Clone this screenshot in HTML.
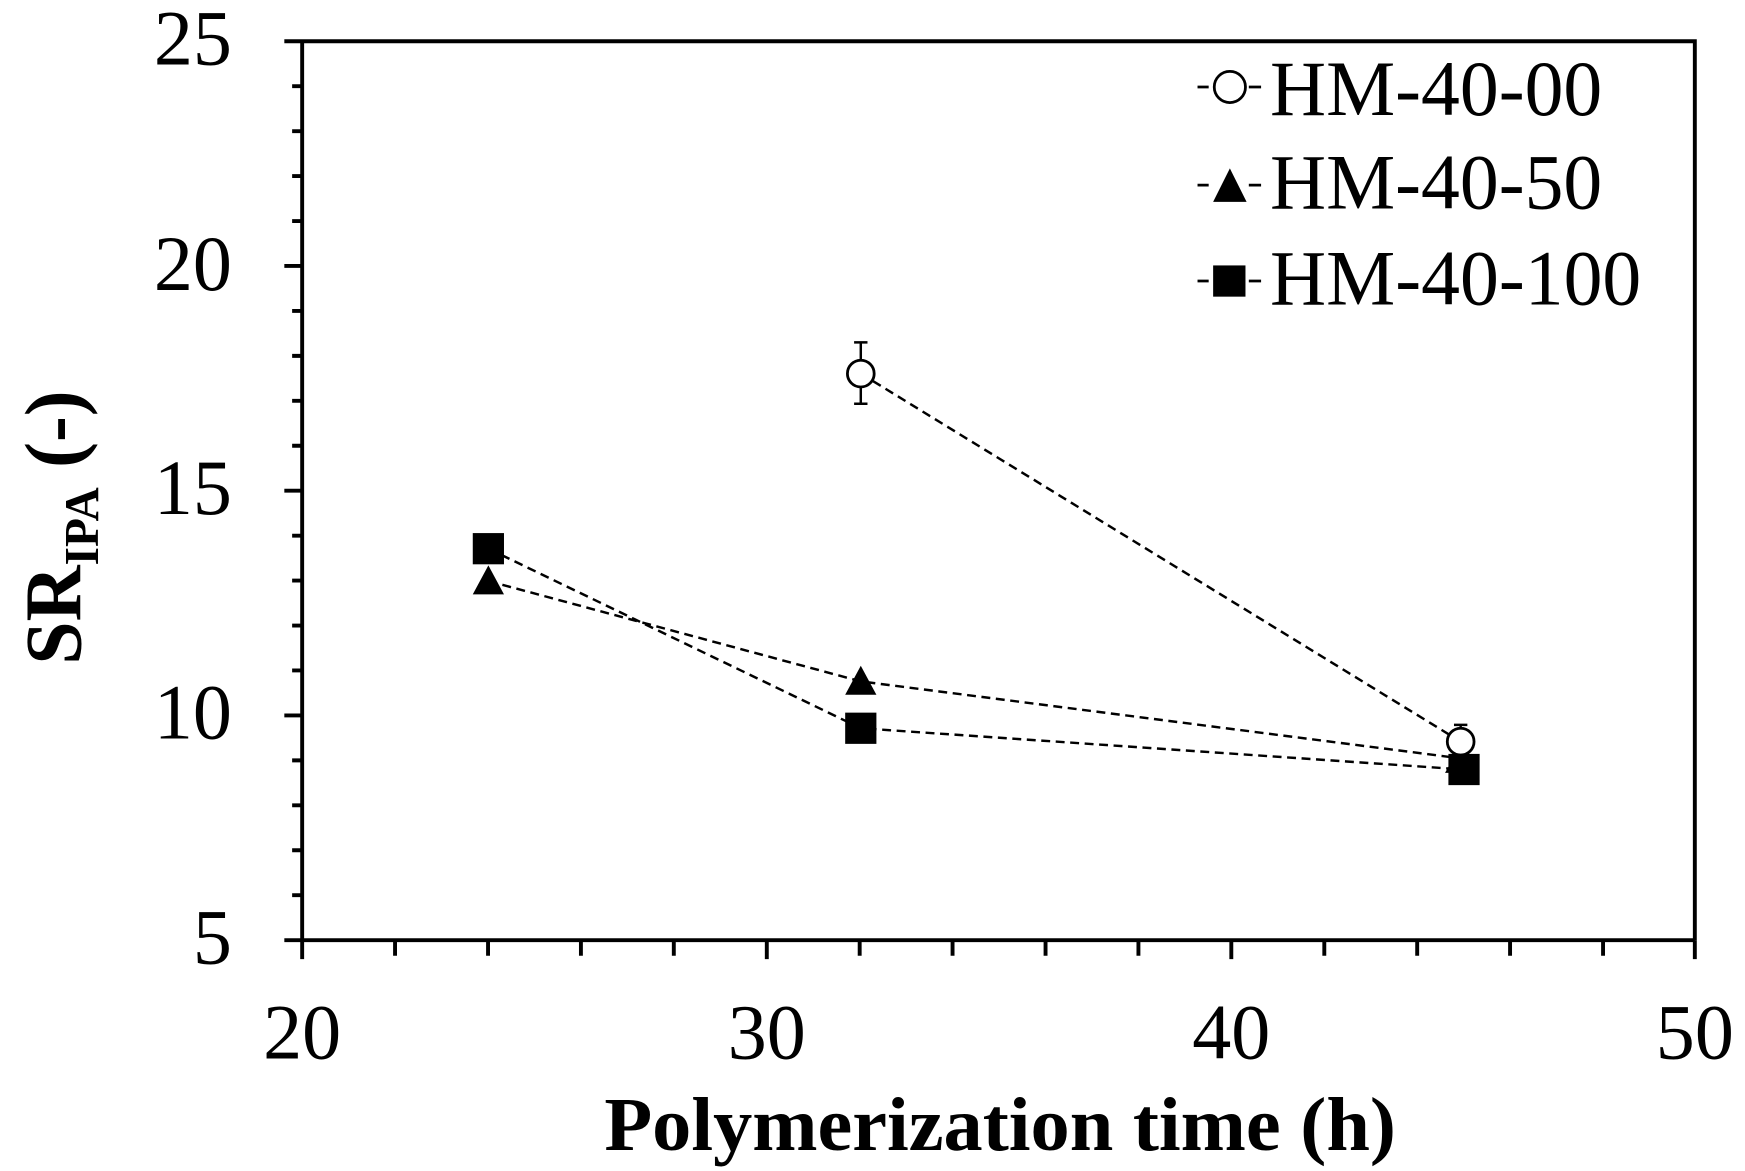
<!DOCTYPE html>
<html><head><meta charset="utf-8"><style>html,body{margin:0;padding:0;background:#fff}svg{display:block}</style></head>
<body>
<svg width="1745" height="1171" viewBox="0 0 1565 1050" preserveAspectRatio="none" xmlns="http://www.w3.org/2000/svg" font-family="'Liberation Serif', serif">
<g stroke="#000" stroke-width="3.5" fill="none">
<path d="M255 37 H1520 V843 M271 37 V860 M255 843 H1520"/>
<path d="M262 77.3H271 M262 117.6H271 M262 157.9H271 M262 198.2H271 M262 278.8H271 M262 319.1H271 M262 359.4H271 M262 399.7H271 M262 480.3H271 M262 520.6H271 M262 560.9H271 M262 601.2H271 M262 681.8H271 M262 722.1H271 M262 762.4H271 M262 802.7H271"/>
<path d="M255 238.5H271 M255 440H271 M255 641.5H271"/>
<path d="M354.3 843V857 M437.7 843V857 M521 843V857 M604.3 843V857 M771 843V857 M854.3 843V857 M937.7 843V857 M1021 843V857 M1187.7 843V857 M1271 843V857 M1354.3 843V857 M1437.7 843V857"/>
<path d="M687.7 843V860 M1104.3 843V860 M1520 843V860"/>
</g>
<g font-size="70" fill="#000">
<g text-anchor="end">
<text x="208" y="58">25</text>
<text x="208" y="260">20</text>
<text x="208" y="461">15</text>
<text x="208" y="662">10</text>
<text x="208" y="864">5</text>
</g>
<g text-anchor="middle">
<text x="271" y="949">20</text>
<text x="687.7" y="949">30</text>
<text x="1104.3" y="949">40</text>
<text x="1520" y="949">50</text>
</g>
</g>
<text x="897" y="1031" font-size="68" font-weight="bold" text-anchor="middle" textLength="710" lengthAdjust="spacingAndGlyphs">Polymerization time (h)</text>
<text transform="translate(72,596) rotate(-90)" font-size="72" font-weight="bold" textLength="246" lengthAdjust="spacingAndGlyphs">SR<tspan font-size="44" dy="16">IPA</tspan><tspan dy="-16"> (-)</tspan></text>
<g stroke="#000" stroke-width="2.2" fill="none" stroke-dasharray="8,5">
<path d="M772 335 L1310 665"/>
<path d="M438 521 L772 611 L1310 680"/>
<path d="M438 492 L772 653 L1313 690"/>
</g>
<g stroke="#000" stroke-width="2.2">
<path d="M772 307V362 M766 307H778 M766 362H778"/>
<path d="M1310 650V680 M1304 650H1316"/>
</g>
<g fill="#000">
<rect x="424" y="478" width="28" height="28"/>
<path d="M438 507 L452 533 L424 533Z"/>
<path d="M772 597 L786 623 L758 623Z"/>
<rect x="758" y="639" width="28" height="28"/>
<path d="M1310 667 L1324 693 L1296 693Z"/>
<rect x="1299" y="676" width="28" height="28"/>
</g>
<g fill="#fff" stroke="#000" stroke-width="2.5">
<circle cx="772" cy="335" r="12"/>
<circle cx="1310" cy="665" r="12"/>
</g>
<g stroke="#000" stroke-width="2.5">
<path d="M1074 78H1084 M1120 78H1131 M1074 166H1084 M1120 166H1131 M1074 252H1084 M1120 252H1131"/>
</g>
<circle cx="1103" cy="78" r="14" fill="#fff" stroke="#000" stroke-width="2.5"/>
<path d="M1103 151 L1118 181 L1088 181Z" fill="#000"/>
<rect x="1088" y="238" width="29" height="28" fill="#000"/>
<g font-size="70" fill="#000">
<text x="1139" y="103" textLength="298" lengthAdjust="spacingAndGlyphs">HM-40-00</text>
<text x="1139" y="187" textLength="298" lengthAdjust="spacingAndGlyphs">HM-40-50</text>
<text x="1139" y="273" textLength="333" lengthAdjust="spacingAndGlyphs">HM-40-100</text>
</g>
</svg>
</body></html>
